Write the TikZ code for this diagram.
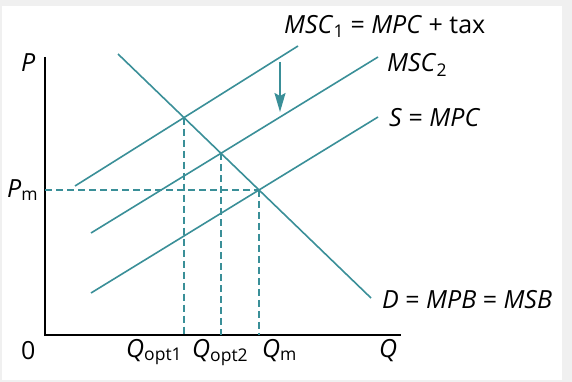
\documentclass[tikz,border=0pt]{standalone}
\usepackage{fontspec}
\setmainfont{Open Sans}
\usetikzlibrary{arrows.meta,calc}
\definecolor{taxteal}{RGB}{58,143,152}
\definecolor{framegrey}{RGB}{240,240,240}

\tikzset{
  curve/.style={draw=taxteal, line width=1.6pt},
  guide/.style={draw=taxteal, line width=1.3pt, dash pattern=on 7pt off 4pt},
  axis/.style={draw=black, line width=2.4pt},
  lbl/.style={inner sep=0pt, font=\fontsize{25}{29}\selectfont},
}

\begin{document}
\begin{tikzpicture}[x=1pt,y=-1pt]
\fill[framegrey] (0,0) rectangle (572,382);
\fill[white] (2,6) rectangle (562,380);

% axes
\coordinate (origin) at (45,335);
\coordinate (ytop) at (45,57);
\coordinate (xend) at (401,335);
\draw[axis] (ytop) -- (origin) -- (xend);

% supply, social cost and demand curves
\coordinate (s0) at (91,293);   \coordinate (s1) at (378,117);
\coordinate (mb0) at (91,233);  \coordinate (mb1) at (378,57);
\coordinate (ma0) at (75,186);  \coordinate (ma1) at (298,46);
\coordinate (d0) at (118,54);   \coordinate (d1) at (371,298);

\coordinate (eqm) at (intersection of d0--d1 and s0--s1);
\coordinate (opt1) at (intersection of d0--d1 and ma0--ma1);
\coordinate (opt2) at (intersection of d0--d1 and mb0--mb1);

% dashed guides
\draw[guide] (origin |- eqm) -- (eqm);
\draw[guide] (opt1) -- (opt1 |- origin);
\draw[guide] (opt2) -- (opt2 |- origin);
\draw[guide] (eqm) -- (eqm |- origin);

\draw[curve] (ma0) -- (ma1);
\draw[curve] (mb0) -- (mb1);
\draw[curve] (s0) -- (s1);
\draw[curve] (d0) -- (d1);

% tax shift
\coordinate (shifttop) at (280,62);
\coordinate (shiftend) at (280,112);
\draw[taxteal, line width=2pt, -{Stealth[length=19pt,width=11pt,inset=3pt]}] (shifttop) -- (shiftend);

% labels
\node[lbl, anchor=base west] (msc1lbl) at (284,34) {\textit{MSC}\textsubscript{1} = \textit{MPC} + tax};
\node[lbl, anchor=base west] (msc2lbl) at (387,72) {\textit{MSC}\textsubscript{2}};
\node[lbl, anchor=base west] (slbl) at (389,127) {\textit{S} = \textit{MPC}};
\node[lbl, anchor=base west] (dlbl) at (382,308) {\textit{D} = \textit{MPB} = \textit{MSB}};
\node[lbl, anchor=base west] (plbl) at (21,72) {\textit{P}};
\node[lbl, anchor=base west] (pmlbl) at (7,197) {\textit{P}\textsubscript{m}};
\node[lbl, anchor=base west] (zerolbl) at (21,359) {0};
\node[lbl, anchor=base west] (qopt1lbl) at (126,357) {\textit{Q}\textsubscript{opt1}};
\node[lbl, anchor=base west] (qopt2lbl) at (192,357) {\textit{Q}\textsubscript{opt2}};
\node[lbl, anchor=base west] (qmlbl) at (262,357) {\textit{Q}\textsubscript{m}};
\node[lbl, anchor=base west] (qlbl) at (379,357) {\textit{Q}};
\end{tikzpicture}
\end{document}
